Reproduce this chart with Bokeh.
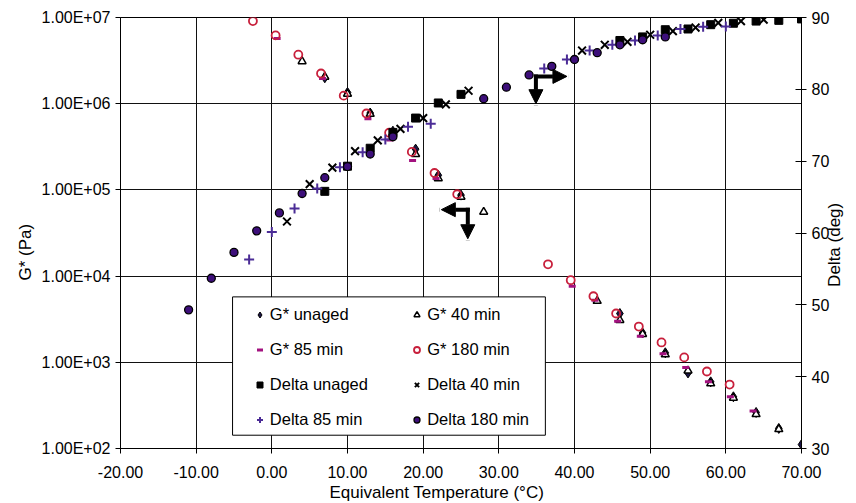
import math
from bokeh.plotting import figure
from bokeh.models import (Range1d, LinearAxis, LinearScale, FixedTicker, CustomJSTickFormatter,
                          NumeralTickFormatter, Legend, LegendItem, BoxAnnotation,
                          Arrow, NormalHead, Title)
from bokeh.embed import file_html
from bokeh.resources import INLINE

# ---------------- data ----------------
gu_x = [7, 10, 13, 16, 19, 22, 25, 46, 49, 52, 55, 58, 61, 64, 67, 70]
gu_y = [2.0e6, 1.35e6, 7.8e5, 4.8e5, 2.97e5, 1.48e5, 8.7e4, 3.68e3, 2.19e3, 1.29e3,
        753, 593, 398, 262, 171, 111]
g40_x = [4, 7, 10, 13, 16, 19, 22, 25, 28, 43, 46, 49, 52, 55, 58, 61, 64, 67]
g40_y = [3.1e6, 2.05e6, 1.3e6, 7.6e5, 4.6e5, 2.6e5, 1.36e5, 8.3e4, 5.56e4, 5.15e3,
         3.08e3, 2.12e3, 1.23e3, 800, 567, 386, 250, 167]
g85_x = [0.7, 6.7, 12.7, 15.6, 18.6, 21.7, 39.7, 42.7, 45.7, 48.7, 51.7, 54.7, 57.7, 60.6, 63.6]
g85_y = [5.7e6, 1.96e6, 6.7e5, 3.8e5, 2.2e5, 1.36e5, 7.6e3, 5.25e3, 3.0e3, 2.0e3,
         1.26e3, 870, 593, 398, 273]
g180_x = [-2.5, 0.5, 3.5, 6.5, 9.5, 12.5, 15.5, 18.5, 21.5, 24.5, 36.5, 39.5, 42.5,
          45.5, 48.5, 51.5, 54.5, 57.5, 60.5]
g180_y = [9.1e6, 6.2e6, 3.7e6, 2.24e6, 1.24e6, 7.7e5, 4.6e5, 2.76e5, 1.57e5, 8.9e4,
          1.37e4, 8.96e3, 5.84e3, 3.68e3, 2.6e3, 1.7e3, 1.14e3, 782, 552]
du_x = [7, 10, 13, 16, 19, 22, 25, 46, 49, 52, 55, 58, 61, 64, 67, 70]
du_y = [65.8, 69.3, 71.8, 74.0, 76.0, 78.1, 79.3, 86.8, 87.3, 88.3, 88.4, 89.0, 89.2,
        89.5, 89.6, 89.8]
d40_x = [2, 5, 8, 11, 14, 17, 20, 23, 26, 41, 44, 47, 50, 53, 56, 59, 62, 65]
d40_y = [61.6, 66.8, 69.1, 71.4, 72.9, 74.5, 76.0, 77.9, 79.8, 85.4, 86.2, 86.6, 87.6,
         88.1, 88.6, 89.25, 89.5, 89.7]
d85_x = [-3, 0, 3, 6, 9, 12, 15, 18, 21, 36, 39, 42, 45, 48, 51, 54, 57, 60]
d85_y = [56.3, 60.15, 63.4, 66.2, 69.15, 71.25, 73.0, 74.8, 75.2, 82.9, 84.15, 85.4,
         86.2, 86.8, 87.5, 88.4, 88.7, 88.75]
d180_x = [-11, -8, -5, -2, 1, 4, 7, 10, 13, 16, 28, 31, 34, 37, 40, 43, 46, 49, 52]
d180_y = [49.3, 53.7, 57.3, 60.3, 62.8, 65.5, 67.7, 69.25, 71.0, 73.4, 78.7, 80.3, 82.0,
          83.2, 84.15, 85.1, 86.2, 86.9, 87.3]

x_ticks = [-20, -10, 0, 10, 20, 30, 40, 50, 60, 70]
g_ticks = [1e2, 1e3, 1e4, 1e5, 1e6, 1e7]
d_ticks = [30, 40, 50, 60, 70, 80, 90]
DELTA_TITLE_AT = [52.5]   # where the right-hand title starts along the Delta axis

FONT = "Liberation Sans"
FS = "16px"
FS_TITLE = "17px"
FS_LEG = "16.5px"

p = figure(width=856, height=503, x_range=Range1d(-20, 70), y_range=Range1d(1e2, 1e7),
           y_axis_type="log", output_backend="svg", toolbar_location=None,
           min_border_left=120, min_border_right=51, min_border_top=17, min_border_bottom=55)
p.extra_y_ranges = {"delta": Range1d(30, 90)}
p.extra_y_scales = {"delta": LinearScale()}
p.background_fill_color = "white"
p.outline_line_color = "black"
p.outline_line_width = 1

# axes
xa = p.xaxis[0]
ya = p.left[0]
xa.ticker = FixedTicker(ticks=x_ticks)
xa.formatter = NumeralTickFormatter(format="0.00")
ya.ticker = FixedTicker(ticks=g_ticks)
ya.formatter = CustomJSTickFormatter(code="""
var s = tick.toExponential(2).toUpperCase();
return s.replace(/E([+-])(\\d)$/, function(m, a, b) { return 'E' + a + '0' + b; });
""")
ra = LinearAxis(y_range_name="delta", ticker=FixedTicker(ticks=d_ticks))
p.add_layout(ra, "right")

for ax in (xa, ya, ra):
    ax.axis_line_color = "black"
    ax.major_tick_line_color = "black"
    ax.minor_tick_line_color = None
    ax.major_tick_out = 5
    ax.major_tick_in = 0
    ax.major_label_text_font = FONT
    ax.major_label_text_font_size = FS
    ax.major_label_text_color = "black"
ra.major_tick_in = 6
xa.major_label_standoff = 12
ya.major_label_standoff = 5
ra.major_label_standoff = 5

# right-hand title, drawn as the single (rotated) label of a bare axis
rt = LinearAxis(y_range_name="delta", ticker=FixedTicker(ticks=DELTA_TITLE_AT),
                formatter=CustomJSTickFormatter(code="return 'Delta (deg)';"),
                major_label_orientation=math.pi / 2, axis_line_color=None,
                major_tick_line_color=None, minor_tick_line_color=None,
                major_tick_in=0, major_tick_out=0, major_label_standoff=2,
                major_label_text_font=FONT, major_label_text_font_size=FS_TITLE,
                major_label_text_color="black")
p.add_layout(rt, "right")

# axis titles for x and left axes
p.add_layout(Title(text="Equivalent Temperature (°C)", align="left", offset=209,
                   standoff=0, text_font=FONT, text_font_size=FS_TITLE,
                   text_font_style="normal", text_color="black"), "below")
p.add_layout(Title(text="G* (Pa)", align="left", offset=168, standoff=8,
                   text_font=FONT, text_font_size=FS_TITLE, text_font_style="normal",
                   text_color="black"), "left")

p.xgrid.ticker = FixedTicker(ticks=x_ticks)
p.ygrid.ticker = FixedTicker(ticks=g_ticks)
for g in (p.xgrid[0], p.ygrid[0]):
    g.grid_line_color = "#111111"
    g.grid_line_width = 1

# series
r_gu = p.scatter(gu_x, gu_y, marker="diamond", size=10,
                 fill_color="#1b1446", line_color="#000000", line_width=1)
r_g40 = p.scatter(g40_x, g40_y, marker="triangle", size=8, fill_color="white",
                  line_color="black", line_width=1.5)
r_g85 = p.scatter(g85_x, g85_y, marker="dash", size=7, line_color="#A3127F", line_width=3)
r_g180 = p.scatter(g180_x, g180_y, marker="circle", size=8, fill_color=None,
                   line_color="#C8203C", line_width=1.8)
r_du = p.scatter(du_x, du_y, marker="square", size=8, fill_color="black",
                 line_color="black", y_range_name="delta")
r_d40 = p.scatter(d40_x, d40_y, marker="x", size=11, line_color="black", line_width=2,
                  y_range_name="delta")
r_d85 = p.scatter(d85_x, d85_y, marker="cross", size=10, line_color="#4B2C96",
                  line_width=2, y_range_name="delta")
r_d180 = p.scatter(d180_x, d180_y, marker="circle", size=8, fill_color="#3D0F7A",
                   line_color="black", line_width=1.3, y_range_name="delta")

# arrows (annotations)
arrow_specs = [
    # (x_corner, y_corner, x_tip_horizontal, y_tip_vertical)
    (34.9, 81.8, 39.0, 78.0),
    (25.9, 63.25, 22.4, 59.2),
]
for xc, yc, xh, yv in arrow_specs:
    for xs, ys, xe, ye in ((xc, yc, xh, yc), (xc, yc, xc, yv)):
        p.add_layout(Arrow(end=NormalHead(size=14, fill_color="black", line_color="black"),
                           x_start=xs, y_start=ys, x_end=xe, y_end=ye,
                           line_width=4, line_color="black", line_cap="square",
                           y_range_name="delta"))

# legend box
box = BoxAnnotation(left=-5.19, right=36.15, bottom=142.6, top=5740,
                    fill_color="white", fill_alpha=1.0,
                    line_color="black", line_width=1, line_alpha=1.0)
p.add_layout(box)

def make_legend(items, x):
    return Legend(items=items, location=(x, 18.7), orientation="vertical",
                  label_text_font=FONT, label_text_font_size=FS_LEG, label_text_color="black",
                  glyph_width=15, glyph_height=15, label_height=20, spacing=15,
                  label_standoff=3, padding=0, margin=0,
                  border_line_color=None, background_fill_alpha=0)

leg1 = make_legend([LegendItem(label="G* unaged", renderers=[r_gu]),
                    LegendItem(label="G* 85 min", renderers=[r_g85]),
                    LegendItem(label="Delta unaged", renderers=[r_du]),
                    LegendItem(label="Delta 85 min", renderers=[r_d85])], 131.8)
leg2 = make_legend([LegendItem(label="G* 40 min", renderers=[r_g40]),
                    LegendItem(label="G* 180 min", renderers=[r_g180]),
                    LegendItem(label="Delta 40 min", renderers=[r_d40]),
                    LegendItem(label="Delta 180 min", renderers=[r_d180])], 289.2)
p.add_layout(leg1, "center")
p.add_layout(leg2, "center")

open("out.html", "w").write(file_html(p, INLINE))
